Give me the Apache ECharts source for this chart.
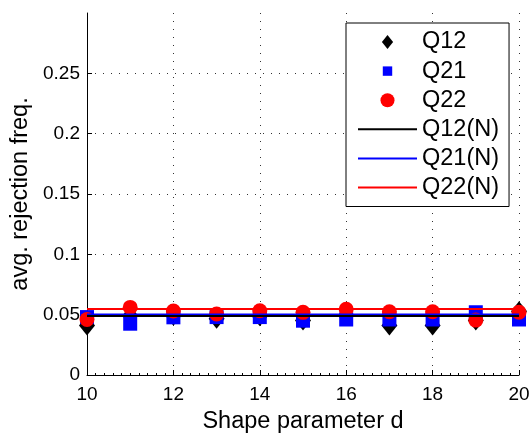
<!DOCTYPE html>
<html>
<head>
<meta charset="utf-8">
<script src="https://cdn.jsdelivr.net/npm/echarts@6/dist/echarts.min.js"></script>
<style>
  html, body { margin: 0; padding: 0; background: #fff; }
  #chart { width: 532px; height: 433px; }
</style>
</head>
<body>
<div id="chart"></div>
<script>
// Shape parameter d
const shapeD = [10, 11, 12, 13, 14, 15, 16, 17, 18, 19, 20];
// Average rejection frequencies per statistic
const q12 = [0.041, 0.049, 0.049, 0.0466, 0.0487, 0.0452, 0.049, 0.041, 0.041, 0.0452, 0.0529];
const q21 = [0.048, 0.0425, 0.0478, 0.048, 0.048, 0.045, 0.046, 0.046, 0.046, 0.052, 0.046];
const q22 = [0.046, 0.056, 0.053, 0.0505, 0.0532, 0.0519, 0.0544, 0.0524, 0.0524, 0.0455, 0.052];
// Reference levels under the normal case
const q12N = 0.0488;
const q21N = 0.0502;
const q22N = 0.0546;
const yTicks = [0, 0.05, 0.1, 0.15, 0.2, 0.25];

const FONT = 'Liberation Sans, Arial, Helvetica, sans-serif';

const pts = (vals) => shapeD.map((d, i) => [d, vals[i]]);
const flat = (v) => [[shapeD[0], v], [shapeD[shapeD.length - 1], v]];

// legend icons (padded so keepAspect gives the wanted size)
const ICON_DIAMOND = 'path://M0,-8L6.4,0L0,8L-6.4,0Z';
const ICON_SQUARE = 'path://M-2.6,-2.6M13.3,13.3M0,0L10.7,0L10.7,10.7L0,10.7Z';
const ICON_CIRCLE = 'circle';
const ICON_LINE = 'path://M0,0L59,0L59,2L0,2Z';

const chart = echarts.init(document.getElementById('chart'), null, { renderer: 'canvas' });

const gridLine = { show: true, lineStyle: { color: '#333', width: 1, type: [1, 7] } };

chart.setOption({
  animation: false,
  backgroundColor: '#fff',
  grid: { left: 87, right: 13, top: 13, bottom: 58, containLabel: false, outerBoundsMode: 'none' },
  xAxis: {
    type: 'value',
    min: 10, max: 20, interval: 2,
    name: 'Shape parameter d',
    nameLocation: 'middle',
    nameGap: 35,
    nameTextStyle: { fontFamily: FONT, fontSize: 23.5, color: '#000' },
    axisLine: { show: true, onZero: false, lineStyle: { color: '#000', width: 1 } },
    axisTick: { show: true, inside: true, length: 5, lineStyle: { color: '#000' } },
    minorTick: { show: true, splitNumber: 10, length: 2, lineStyle: { color: '#000' } },
    axisLabel: { fontFamily: FONT, fontSize: 19, color: '#000', margin: 10 },
    splitLine: Object.assign({ showMinLine: false, showMaxLine: true }, gridLine)
  },
  yAxis: {
    type: 'value',
    min: 0, max: 0.3, interval: 0.05,
    name: 'avg. rejection freq.',
    nameLocation: 'middle',
    nameGap: 47,
    nameTextStyle: { fontFamily: FONT, fontSize: 23.5, color: '#000' },
    axisLine: { show: true, onZero: false, lineStyle: { color: '#000', width: 1 } },
    axisTick: { show: true, inside: true, length: 5, lineStyle: { color: '#000' } },
    axisLabel: {
      fontFamily: FONT, fontSize: 19, color: '#000', margin: 7,
      showMaxLabel: false,
      formatter: (v) => {
        const hit = yTicks.find((t) => Math.abs(t - v) < 1e-9);
        return hit === undefined ? '' : String(hit);
      }
    },
    splitLine: Object.assign({ showMinLine: false, showMaxLine: false }, gridLine)
  },
  legend: {
    orient: 'vertical',
    left: 346, top: 23,
    padding: [7, 10, 7, 12],
    itemWidth: 59, itemHeight: 14,
    itemGap: 5.1,
    borderColor: '#000', borderWidth: 1,
    backgroundColor: '#fff',
    itemStyle: { opacity: 1 },
    textStyle: { fontFamily: FONT, fontSize: 23.5, color: '#000', lineHeight: 23.5, padding: [0, 0, 0, 0] },
    data: [
      { name: 'Q12', icon: ICON_DIAMOND },
      { name: 'Q21', icon: ICON_SQUARE },
      { name: 'Q22', icon: ICON_CIRCLE },
      { name: 'Q12(N)', icon: ICON_LINE },
      { name: 'Q21(N)', icon: ICON_LINE },
      { name: 'Q22(N)', icon: ICON_LINE }
    ]
  },
  series: [
    { name: 'Q12', type: 'scatter', data: pts(q12), symbol: 'diamond', symbolSize: [16, 20],
      itemStyle: { color: '#000', opacity: 1 }, z: 2 },
    { name: 'Q21', type: 'scatter', data: pts(q21), symbol: 'rect', symbolSize: 14,
      itemStyle: { color: '#0000ff', opacity: 1 }, z: 3 },
    { name: 'Q22', type: 'scatter', data: pts(q22), symbol: 'circle', symbolSize: 15,
      itemStyle: { color: '#ff0000', opacity: 1 }, z: 4 },
    { name: 'Q12(N)', type: 'line', data: flat(q12N), symbol: 'none',
      lineStyle: { color: '#000', width: 2 }, itemStyle: { color: '#000' }, z: 7 },
    { name: 'Q21(N)', type: 'line', data: flat(q21N), symbol: 'none',
      lineStyle: { color: '#0000ff', width: 2 }, itemStyle: { color: '#0000ff' }, z: 6 },
    { name: 'Q22(N)', type: 'line', data: flat(q22N), symbol: 'none',
      lineStyle: { color: '#ff0000', width: 2 }, itemStyle: { color: '#ff0000' }, z: 5 }
  ]
});
</script>
</body>
</html>
